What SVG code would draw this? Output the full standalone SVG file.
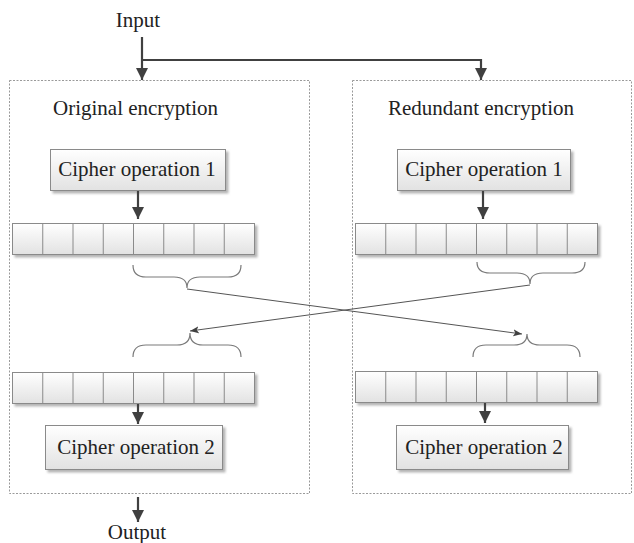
<svg xmlns="http://www.w3.org/2000/svg" width="634" height="543" viewBox="0 0 634 543" font-family="'Liberation Serif', 'DejaVu Serif', serif">
  <defs>
    <linearGradient id="boxFill" x1="0" y1="0" x2="0" y2="1">
      <stop offset="0" stop-color="#ffffff"/>
      <stop offset="1" stop-color="#e2e2e2"/>
    </linearGradient>
    <filter id="shadow" x="-10%" y="-20%" width="125%" height="150%">
      <feDropShadow dx="2.5" dy="2.5" stdDeviation="1.2" flood-color="#7a7a7a" flood-opacity="0.55"/>
    </filter>
    <marker id="arrowBold" viewBox="0 0 10 10" refX="10" refY="5" markerWidth="5.5" markerHeight="5.5" markerUnits="strokeWidth" orient="auto">
      <path d="M0,0 L10,5 L0,10 Z" fill="#404040"/>
    </marker>
    <marker id="arrowThin" viewBox="0 0 10 10" refX="10" refY="5" markerWidth="9" markerHeight="9" markerUnits="strokeWidth" orient="auto">
      <path d="M0,1 L10,5 L0,9 L2.5,5 Z" fill="#404040"/>
    </marker>
    <g id="register">
      <rect x="0" y="0" width="242" height="31" fill="url(#boxFill)" stroke="#8a8a8a" stroke-width="1"/>
      <path d="M30.25,0 V31 M60.5,0 V31 M90.75,0 V31 M121,0 V31 M151.25,0 V31 M181.5,0 V31 M211.75,0 V31" stroke="#8a8a8a" stroke-width="1" fill="none"/>
    </g>
  </defs>
  <style>
    text { font-family: "Liberation Serif", "DejaVu Serif", serif; font-size: 21px; fill: #222222; }
    .frame { fill: none; stroke: #9a9a9a; stroke-width: 1; stroke-dasharray: 2 1.5; }
    .op { fill: url(#boxFill); stroke: #8a8a8a; stroke-width: 1; filter: url(#shadow); }
    .reg { filter: url(#shadow); }
    .bold { fill: none; stroke: #404040; stroke-width: 2.2; }
    .thin { fill: none; stroke: #555555; stroke-width: 1; }
    .brace { fill: none; stroke: #7a7a7a; stroke-width: 1.2; }
  </style>

  <rect width="634" height="543" fill="#ffffff"/>

  <!-- Dotted frames -->
  <g id="original">
    <rect class="frame" x="9.5" y="80.5" width="300" height="413"/>
    <text x="53" y="115">Original encryption</text>
  </g>
  <g id="redundant">
    <rect class="frame" x="352.5" y="80.5" width="279" height="413"/>
    <text x="388" y="115">Redundant encryption</text>
  </g>

  <!-- Terminals -->
  <g id="input"><text x="138" y="27" text-anchor="middle">Input</text></g>
  <g id="output"><text x="137" y="539" text-anchor="middle">Output</text></g>

  <!-- Cipher operations -->
  <g id="orig-op1">
    <rect class="op" x="50.5" y="149.5" width="175" height="41"/>
    <text x="137" y="176" text-anchor="middle">Cipher operation 1</text>
  </g>
  <g id="red-op1">
    <rect class="op" x="397.5" y="149.5" width="173" height="41"/>
    <text x="484" y="176" text-anchor="middle">Cipher operation 1</text>
  </g>
  <g id="orig-op2">
    <rect class="op" x="45.5" y="425.5" width="177" height="44"/>
    <text x="136" y="454" text-anchor="middle">Cipher operation 2</text>
  </g>
  <g id="red-op2">
    <rect class="op" x="396.5" y="425.5" width="172" height="44"/>
    <text x="484" y="454" text-anchor="middle">Cipher operation 2</text>
  </g>

  <!-- Registers -->
  <g id="orig-reg1" class="reg"><use href="#register" x="12.5" y="223.5"/></g>
  <g id="red-reg1" class="reg"><use href="#register" x="355.5" y="223.5"/></g>
  <g id="orig-reg2" class="reg"><use href="#register" x="12.5" y="372.5"/></g>
  <g id="red-reg2" class="reg"><use href="#register" x="355.5" y="371.5"/></g>

  <!-- Braces -->
  <g id="orig-brace-out">
    <path class="brace" d="M133,265 Q133,277 146,277 L174,277 Q187,277 187,288 Q187,277 200,277 L228,277 Q241,277 241,265"/>
  </g>
  <g id="red-brace-out">
    <path class="brace" d="M477,262 Q477,273 490,273 L517,273 Q530,273 530,284 Q530,273 543,273 L572,273 Q585,273 585,262"/>
  </g>
  <g id="orig-brace-in">
    <path class="brace" d="M133,357 Q133,345 146,345 L177,345 Q190,345 190,333 Q190,345 203,345 L228,345 Q241,345 241,357"/>
  </g>
  <g id="red-brace-in">
    <path class="brace" d="M473,357 Q473,345 486,345 L514,345 Q527,345 527,334 Q527,345 540,345 L567,345 Q580,345 580,357"/>
  </g>

  <!-- Connectors -->
  <g id="connectors">
    <path class="bold" d="M142,37 V80" marker-end="url(#arrowBold)"/>
    <path class="bold" d="M142,60 H481 V80" marker-end="url(#arrowBold)"/>
    <path class="bold" d="M138,191 V219" marker-end="url(#arrowBold)"/>
    <path class="bold" d="M483,191 V219" marker-end="url(#arrowBold)"/>
    <path class="bold" d="M138,404 V424" marker-end="url(#arrowBold)"/>
    <path class="bold" d="M485,403 V423" marker-end="url(#arrowBold)"/>
    <path class="bold" d="M138,497 V522" marker-end="url(#arrowBold)"/>
    <path class="thin" d="M187,289 L522,334" marker-end="url(#arrowThin)"/>
    <path class="thin" d="M530,285 L190,331" marker-end="url(#arrowThin)"/>
  </g>
</svg>
